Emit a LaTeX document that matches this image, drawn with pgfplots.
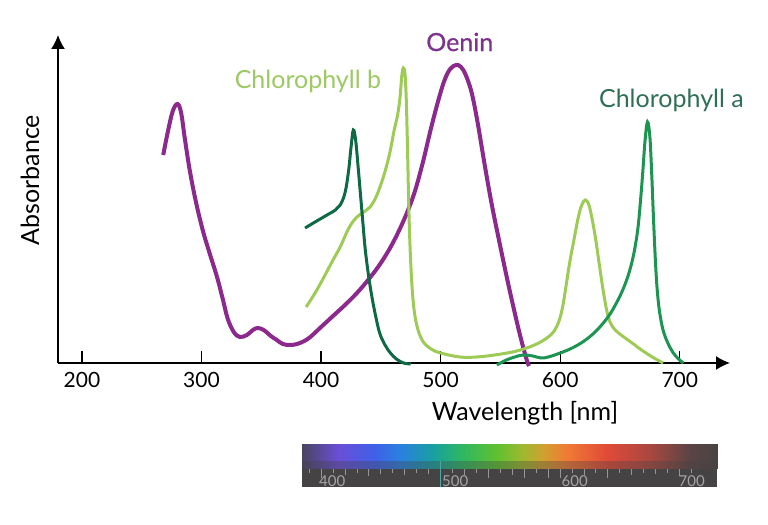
\documentclass[border=0pt]{standalone}
\usepackage{pgfplots}
\pgfplotsset{compat=1.18}
\usepackage{fontspec}
\setmainfont{Lato}
\newfontfamily\latosemi[FakeBold=0.7]{Lato}
\usetikzlibrary{arrows.meta}
\definecolor{oenin}{RGB}{139,42,140}
\definecolor{oeninlab}{RGB}{125,50,142}
\definecolor{chlb}{RGB}{157,203,85}
\definecolor{chlblab}{RGB}{156,201,99}
\definecolor{chlaL}{RGB}{14,106,68}
\definecolor{chlaR}{RGB}{28,149,82}
\definecolor{chlalab}{RGB}{47,111,86}
\definecolor{bargray}{RGB}{69,67,68}
\definecolor{bartick}{RGB}{150,150,150}
\definecolor{barlab}{RGB}{165,165,165}
\begin{document}
\begin{tikzpicture}[x=1pt,y=1pt]
\begin{axis}[
  at={(29pt,81pt)}, anchor=south west,
  scale only axis, width=336pt, height=164pt,
  xmin=180, xmax=742, ymin=0, ymax=328,
  axis x line=bottom, axis y line=left,
  axis line style={line width=0.8pt, -{Latex[length=7pt,width=7pt]}},
  xtick={200,300,400,500,600,700}, ytick=\empty,
  tick align=inside, major tick length=6pt,
  every tick/.style={black, line width=0.6pt},
  xticklabel style={font=\fontsize{10.5}{12}\selectfont, yshift=-1pt},
  /pgf/number format/assume math mode=true,
  clip=false,
]
% Oenin
\addplot[oenin, line width=2pt, smooth, tension=0.6] coordinates {
(268,208) (272,232) (276,252) (280,259) (283,250) (286,225) (290,194) (295,163)
(301,133) (307,109) (313,86) (318,63) (322,44) (327,31) (332,26) (338,28)
(343,33) (347,35) (352,33) (358,27) (363,23) (368,19) (374,18) (380,19)
(386,22) (391,26) (400,36) (410,47) (420,58) (430,70) (440,84) (450,100)
(460,120) (470,145) (478,170) (485,200) (491,230) (497,258) (503,282)
(508,294) (513,298) (517,296) (521,288) (526,270) (531,240) (537,197) (543,157)
(550,116) (556,82) (562,50) (567,25) (572,3) (574,-3)};
% Chlorophyll b
\addplot[chlb, line width=1.5pt, smooth, tension=0.6] coordinates {
(387.5,56) (395,70) (402,85) (410,103) (416,116) (422,132) (427,142) (432,148)
(437,152) (441,156) (446,166) (451,182) (455,198) (458,213) (461,232) (464,248)
(466,265) (467.5,287) (468.8,295) (470.2,289) (471.3,262) (472.3,215) (473.5,150)
(475,100) (477,62) (480,38) (485,22) (492,14) (500,10) (516,6) (530,6) (545,8)
(560,11) (572,15) (582,20) (590,26) (595,32) (599,42) (602,56) (605,78) (608,101)
(611,120) (615,145) (618,158) (621,163) (624,158) (627,142) (630,121) (633,96)
(636,72) (639,52) (642,40) (646,33) (652,27) (659,21) (668,13) (677,6) (686,0)};
% Chlorophyll a (blue region)
\addplot[chlaL, line width=1.5pt, smooth, tension=0.6] coordinates {
(386.6,135) (395,141) (405,148) (412,153) (416,158) (420,170) (423,192) (425,215)
(427,233) (429,222) (431,196) (433,168) (435,140) (437,113) (440,85) (443,63)
(446,45) (449,30) (453,19) (458,10) (463,4) (469,0) (475,-1)};
% Chlorophyll a (red region)
\addplot[chlaR, line width=1.5pt, smooth, tension=0.6] coordinates {
(547,-2) (555,3) (562,6) (569,8) (577,7) (584,5) (590,6) (600,10)
(610,15) (620,22) (630,32) (640,46) (647,60) (653,75) (658,92) (662,112)
(665,135) (667,160) (669,190) (671,223) (673,241) (675,226) (676.5,190)
(678,145) (679.5,105) (681,75) (683,52) (686,33) (690,20) (694.6,10) (699,4) (703,0)};
\node[text=oeninlab, font=\latosemi\fontsize{12.5}{14}\selectfont] at (axis cs:516,321) {Oenin};
\node[text=chlblab, font=\fontsize{12.5}{14}\selectfont] at (axis cs:389,282) {Chlorophyll b};
\node[text=chlalab, font=\fontsize{12.5}{14}\selectfont] at (axis cs:693,263) {Chlorophyll a};
\node[rotate=90, font=\fontsize{12.5}{14}\selectfont] at (rel axis cs:-0.0417,0.558) {Absorbance};
\node[font=\fontsize{12.5}{14}\selectfont] at (rel axis cs:0.695,-0.152) {Wavelength [nm]};
\end{axis}
\begin{axis}[
  at={(151pt,19pt)}, anchor=south west,
  scale only axis, width=207.5pt, height=21.5pt,
  xmin=384, xmax=731.4, ymin=0, ymax=1,
  view={0}{90}, hide axis, clip=false,
  colormap={spec}{
    rgb255(0pt)=(74,69,96); rgb255(31pt)=(106,79,216); rgb255(60pt)=(64,96,232);
    rgb255(82pt)=(42,128,224); rgb255(110pt)=(24,160,160); rgb255(135pt)=(48,184,96);
    rgb255(163pt)=(96,192,48); rgb255(185pt)=(160,184,48); rgb255(202pt)=(208,160,48);
    rgb255(222pt)=(240,122,53); rgb255(255pt)=(224,74,56); rgb255(291pt)=(168,72,64);
    rgb255(325pt)=(90,68,68); rgb255(347.4pt)=(74,68,68)},
  point meta min=384, point meta max=731.4,
]
\addplot3[fill=bargray, draw=none] coordinates {(384,0,0) (731.4,0,0) (731.4,1,0) (384,1,0)} -- cycle;
\addplot3[surf, shader=interp, point meta=x, draw=none, mesh/cols=14] coordinates {
(384,0.42,0) (415,0.42,0) (444,0.42,0) (466,0.42,0) (494,0.42,0) (519,0.42,0) (547,0.42,0)
(569,0.42,0) (586,0.42,0) (606,0.42,0) (639,0.42,0) (675,0.42,0) (709,0.42,0) (731.4,0.42,0)

(384,1,0) (415,1,0) (444,1,0) (466,1,0) (494,1,0) (519,1,0) (547,1,0)
(569,1,0) (586,1,0) (606,1,0) (639,1,0) (675,1,0) (709,1,0) (731.4,1,0)
};
\addplot3[fill=bargray, draw=none, fill opacity=0.35] coordinates {(384,0.42,0) (731.4,0.42,0) (731.4,0.6,0) (384,0.6,0)} -- cycle;
\addplot3[bartick, line width=0.4pt, unbounded coords=jump] coordinates {
(390,0.42,0) (390,0.32,0) (390,nan,0)
(400,0.42,0) (400,0.22,0) (400,nan,0)
(410,0.42,0) (410,0.32,0) (410,nan,0)
(420,0.42,0) (420,0.28,0) (420,nan,0)
(430,0.42,0) (430,0.32,0) (430,nan,0)
(440,0.42,0) (440,0.26,0) (440,nan,0)
(450,0.42,0) (450,0.30,0) (450,nan,0)
(460,0.42,0) (460,0.32,0) (460,nan,0)
(470,0.42,0) (470,0.28,0) (470,nan,0)
(480,0.42,0) (480,0.32,0) (480,nan,0)
(490,0.42,0) (490,0.30,0) (490,nan,0)
(510,0.42,0) (510,0.32,0) (510,nan,0)
(520,0.42,0) (520,0.28,0) (520,nan,0)
(530,0.42,0) (530,0.32,0) (530,nan,0)
(540,0.42,0) (540,0.20,0) (540,nan,0)
(550,0.42,0) (550,0.32,0) (550,nan,0)
(560,0.42,0) (560,0.28,0) (560,nan,0)
(570,0.42,0) (570,0.22,0) (570,nan,0)
(580,0.42,0) (580,0.32,0) (580,nan,0)
(590,0.42,0) (590,0.22,0) (590,nan,0)
(600,0.42,0) (600,0.22,0) (600,nan,0)
(610,0.42,0) (610,0.32,0) (610,nan,0)
(620,0.42,0) (620,0.28,0) (620,nan,0)
(630,0.42,0) (630,0.32,0) (630,nan,0)
(640,0.42,0) (640,0.22,0) (640,nan,0)
(650,0.42,0) (650,0.32,0) (650,nan,0)
(660,0.42,0) (660,0.28,0) (660,nan,0)
(670,0.42,0) (670,0.32,0) (670,nan,0)
(680,0.42,0) (680,0.30,0) (680,nan,0)
(690,0.42,0) (690,0.32,0) (690,nan,0)
(700,0.42,0) (700,0.26,0) (700,nan,0)
(710,0.42,0) (710,0.32,0)};
\addplot3[teal!70!white, line width=0.6pt] coordinates {(500,0.6,0) (500,0,0)};
\node[text=barlab, anchor=west, inner sep=0pt, font=\fontsize{7.5}{8}\selectfont] at (axis cs:398,0.13,0) {400};
\node[text=barlab, anchor=west, inner sep=0pt, font=\fontsize{7.5}{8}\selectfont] at (axis cs:501,0.13,0) {500};
\node[text=barlab, anchor=west, inner sep=0pt, font=\fontsize{7.5}{8}\selectfont] at (axis cs:601,0.13,0) {600};
\node[text=barlab, anchor=west, inner sep=0pt, font=\fontsize{7.5}{8}\selectfont] at (axis cs:699,0.13,0) {700};
\end{axis}
\pgfresetboundingbox
\useasboundingbox (0pt,0pt) rectangle (384pt,262.5pt);
\end{tikzpicture}
\end{document}
